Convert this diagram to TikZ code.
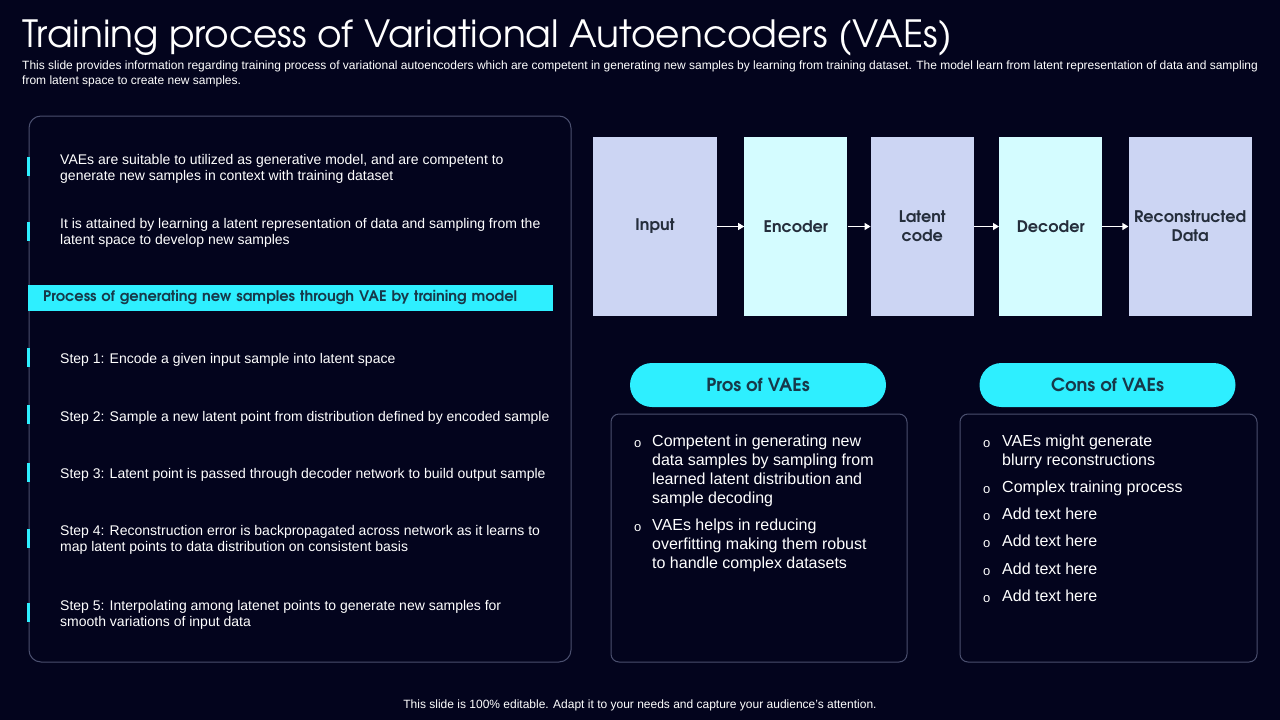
\documentclass[tikz,border=0pt]{standalone}
\usepackage{fontspec}
\setmainfont{Liberation Sans}
\newfontfamily\gothic{texgyreadventor}[Extension=.otf, UprightFont=*-regular, BoldFont=*-bold]
\usetikzlibrary{arrows.meta, positioning}
\definecolor{slidebg}{HTML}{03041D}
\definecolor{accent}{HTML}{2EEFFF}
\definecolor{periwinkle}{HTML}{CCD5F3}
\definecolor{icecyan}{HTML}{D4FCFF}
\definecolor{boxtext}{HTML}{252E3C}
\definecolor{pilltext}{HTML}{17394A}
\definecolor{frame}{HTML}{4A4F6E}
\tikzset{%
	panel/.style={draw=frame, line width=1pt, rounded corners=8pt},
	side tick/.style={fill=accent, minimum width=3.5pt, minimum height=19pt, inner sep=0pt},
	item text/.style={text=white, align=left, inner sep=0pt, font=\fontsize{14}{16}\selectfont},
	flow box/.style={minimum height=179pt, inner sep=0pt, align=center, text=boxtext, font=\gothic\bfseries\fontsize{16}{19}\selectfont},
	flow arrow/.style={draw=white, line width=1.2pt, -{Triangle[length=6pt, width=7pt]}},
	pill/.style={fill=accent, rounded corners=22pt, minimum width=256pt, minimum height=44pt, text=pilltext, font=\gothic\bfseries\fontsize{18}{20}\selectfont},
	list text/.style={text=white, align=left, inner sep=0pt, font=\fontsize{16}{19}\selectfont},
	list dot/.style={text=white, inner sep=0pt, font=\fontsize{13}{15}\selectfont},
}

\begin{document}
\begin{tikzpicture}[x=1pt, y=-1pt]
	% Background of the slide
	\fill[slidebg] (0,0) rectangle (1280,720);
	\useasboundingbox (0,0) rectangle (1280,720);
	
	% Title and subtitle
	\node[anchor=base west, inner sep=0pt, text=white, font=\gothic\fontsize{37.5}{40}\selectfont] (title) at (22,47) {Training process of Variational Autoencoders (VAEs)};
	\node[anchor=north west, inner sep=0pt, text=white, align=left, font=\fontsize{12}{15}\selectfont] (subtitle) at (22,60.5) {This slide provides information regarding training process of variational autoencoders which are competent in generating new samples by learning from training dataset. The model learn from latent representation of data and sampling\\from latent space to create new samples.};
	
	% Left panel with the notes and the steps
	\draw[panel, rounded corners=12pt] (29,116) rectangle (571,662);
	\foreach \ty/\ky/\txt [count=\i] in {
		159/166/{VAEs are suitable to utilized as generative model, and are competent to\\generate new samples in context with training dataset},
		223/231/{It is attained by learning a latent representation of data and sampling from the\\latent space to develop new samples},
		358/357/{Step 1: Encode a given input sample into latent space},
		416/414/{Step 2: Sample  a new latent point from distribution defined by encoded sample},
		473/472/{Step 3: Latent point is passed through decoder network to build output sample},
		530/538/{Step 4: Reconstruction error is backpropagated across network as it learns to\\map latent points to data distribution on consistent basis},
		605/612/{Step 5: Interpolating among latenet points to generate new samples for\\smooth variations of input data}} {
		\node[side tick] (tick\i) at (28.5,\ky) {};
		\node[item text, anchor=north west] (item\i) at (60,\ty-5) {\txt};
	}
	\node[fill=accent, anchor=west, minimum height=26pt, text width=495pt, inner xsep=15pt, inner ysep=0pt, align=left, text=pilltext, font=\gothic\bfseries\fontsize{14.6}{17}\selectfont] (procbar) at (28,298) {Process of generating new samples through VAE by training model};
	
	% The flow from input to reconstructed data
	\node[flow box, fill=periwinkle, minimum width=124pt] (input) at (655,226.5) {Input};
	\node[flow box, fill=icecyan, minimum width=103pt, right=27pt of input] (encoder) {Encoder};
	\node[flow box, fill=periwinkle, minimum width=103pt, right=23pt of encoder] (latent) {Latent\\code};
	\node[flow box, fill=icecyan, minimum width=103pt, right=25pt of latent] (decoder) {Decoder};
	\node[flow box, fill=periwinkle, minimum width=123pt, right=26pt of decoder] (recon) {Reconstructed\\Data};
	\draw[flow arrow] (input) -- (encoder);
	\draw[flow arrow] (encoder) -- (latent);
	\draw[flow arrow] (latent) -- (decoder);
	\draw[flow arrow] (decoder) -- (recon);
	
	% Pros and cons
	\node[pill] (pros) at (758,385) {Pros of VAEs};
	\node[pill] (cons) at (1107.5,385) {Cons of VAEs};
	\draw[panel] (611,414) rectangle (907,662);
	\draw[panel] (960,414) rectangle (1257,662);
	\foreach \ty/\txt [count=\i] in {
		441/{Competent in generating new\\data samples by sampling from\\learned latent distribution and\\sample decoding},
		525/{VAEs helps in reducing\\overfitting making them robust\\to handle complex datasets}} {
		\node[list dot, anchor=base west] (prosdot\i) at (634,\ty+6) {o};
		\node[list text, anchor=north west] (prositem\i) at (652,\ty-6) {\txt};
	}
	\foreach \ty/\txt [count=\i] in {
		441/{VAEs might generate\\blurry reconstructions},
		487/{Complex training process},
		514/{Add text here},
		541/{Add text here},
		569/{Add text here},
		596/{Add text here}} {
		\node[list dot, anchor=base west] (consdot\i) at (983,\ty+6) {o};
		\node[list text, anchor=north west] (consitem\i) at (1002,\ty-6) {\txt};
	}
	
	% Footer note
	\node[text=white, inner sep=0pt, font=\fontsize{12}{13}\selectfont] (footer) at (640,705) {This slide is 100\% editable. Adapt it to your needs and capture your audience's attention.};
\end{tikzpicture}
\end{document}
